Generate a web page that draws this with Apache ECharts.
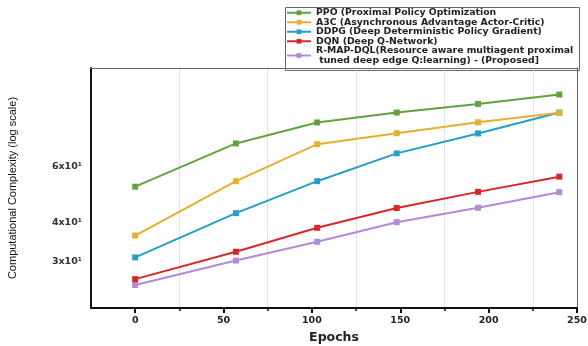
<!DOCTYPE html>
<html>
<head>
<meta charset="utf-8">
<script src="https://cdn.jsdelivr.net/npm/echarts@6/dist/echarts.min.js"></script>
<style>html,body{margin:0;padding:0;background:#fff}#c{width:588px;height:346px}</style>
</head>
<body>
<div id="c"></div>
<script>
const epochs = [0, 57, 103, 148, 194, 240];
const ppo  = [51.7, 70.7, 82.3, 88.4, 94.1, 100.7];
const a3c  = [36.3, 53.8, 70.3, 76.1, 82.4, 88.2];
const ddpg = [31.0, 42.7, 53.8, 65.8, 76.0, 88.4];
const dqn  = [26.5, 32.3, 38.4, 44.3, 49.8, 55.6];
const rmap = [25.4, 30.3, 34.7, 40.0, 44.4, 49.7];
const seriesNames = [
  'PPO (Proximal Policy Optimization',
  'A3C (Asynchronous Advantage Actor-Critic)',
  'DDPG (Deep Deterministic Policy Gradient)',
  'DQN (Deep Q-Network)',
  'R-MAP-DQL(Resource aware multiagent proximal\n tuned deep edge Q:learning) - (Proposed]'
];
const xTickLabels = [0, 50, 100, 150, 200, 250];
const xMinorTicks = [25, 75, 125, 175, 225];
const yTickValues = [30, 40, 60];
const yTickLabels = ['3x10\u00b9', '4x10\u00b9', '6x10\u00b9'];
const colors = ['#62a33f', '#e6b02f', '#25a0c3', '#d8262b', '#b48ad8'];
const allData = [ppo, a3c, ddpg, dqn, rmap];

const chart = echarts.init(document.getElementById('c'), null, {renderer: 'canvas'});
const series = allData.map((d, i) => ({
  name: seriesNames[i],
  type: 'line',
  data: d.map((v, j) => [epochs[j], v]),
  symbol: 'rect',
  symbolSize: 6,
  lineStyle: {width: 2, color: colors[i]},
  itemStyle: {color: colors[i]},
  z: 10 - i
}));
const F = 'DejaVu Sans';
chart.setOption({
  animation: false,
  backgroundColor: '#fff',
  grid: {left: 91, right: 11, top: 68, bottom: 38, containLabel: false, outerBoundsMode: 'none'},
  legend: {
    orient: 'vertical', left: 286, top: 8, itemGap: 0, padding: 0,
    itemWidth: 24, itemHeight: 6,
    textStyle: {fontSize: 9.3, fontWeight: 'bold', color: '#222', fontFamily: F, lineHeight: 9.5},
    data: seriesNames
  },
  graphic: [{type: 'rect', left: 283, top: 5, shape: {width: 294, height: 63}, style: {fill: 'none', stroke: '#666', lineWidth: 1}, z: -1}],
  xAxis: [{
    type: 'value', min: -25, max: 250,
    name: 'Epochs', nameLocation: 'middle', nameGap: 20,
    nameTextStyle: {fontSize: 12.5, fontWeight: 'bold', color: '#222', fontFamily: F},
    axisLine: {show: true, onZero: false, lineStyle: {color: '#111', width: 2}},
    axisTick: {show: true, length: 5, inside: false, customValues: xTickLabels, lineStyle: {color: '#111', width: 2}},
    axisLabel: {customValues: xTickLabels, fontSize: 9.5, fontWeight: 'bold', color: '#222', margin: 8, fontFamily: F},
    splitLine: {show: false}
  }, {
    type: 'value', min: -25, max: 250, position: 'bottom',
    axisLine: {show: false, onZero: false},
    axisTick: {show: true, length: 3, customValues: xMinorTicks, lineStyle: {color: '#111', width: 1.5}},
    axisLabel: {show: false},
    splitLine: {show: true, lineStyle: {color: '#e2e2e2', width: 1}}
  }, {
    type: 'value', min: -25, max: 250, position: 'top',
    axisLine: {show: true, onZero: false, lineStyle: {color: '#666', width: 1}},
    axisTick: {show: false}, axisLabel: {show: false}, splitLine: {show: false}
  }],
  yAxis: [{
    type: 'log', min: 21.5, max: 122,
    name: 'Computational Complexity (log scale)', nameLocation: 'middle', nameRotate: 90, nameGap: 73,
    nameTextStyle: {fontSize: 11, color: '#111', fontFamily: 'Liberation Sans'},
    axisLine: {show: true, onZero: false, lineStyle: {color: '#111', width: 2}},
    axisTick: {show: false},
    axisLabel: {customValues: yTickValues, fontSize: 9.5, fontWeight: 'bold', color: '#333', margin: 9,
      fontFamily: F,
      formatter: function (v) { const k = yTickValues.findIndex(t => Math.abs(t - v) < 0.5); return k >= 0 ? yTickLabels[k] : ''; }},
    splitLine: {show: false}
  }, {
    type: 'log', min: 21.5, max: 122, position: 'right',
    axisLine: {show: true, onZero: false, lineStyle: {color: '#666', width: 1}},
    axisTick: {show: false}, axisLabel: {show: false}, splitLine: {show: false}
  }],
  series: series
});
</script>
</body>
</html>
